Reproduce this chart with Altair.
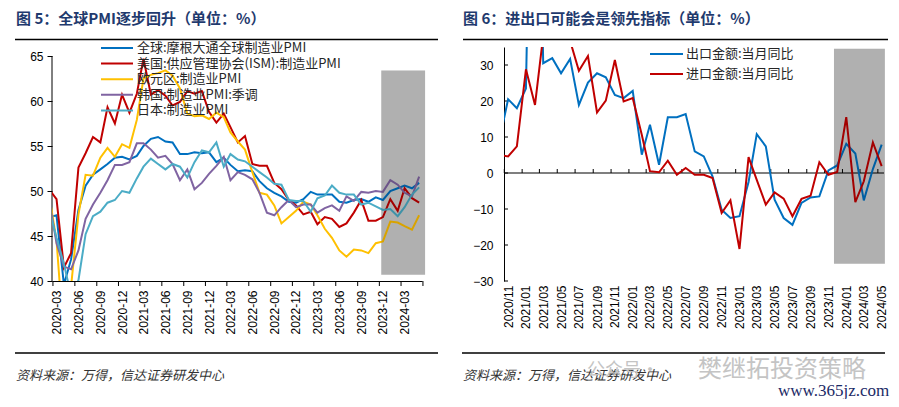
import altair as alt
import pandas as pd

CJK = "Noto Sans CJK SC"
LAT = "Liberation Sans"

# ---------------- 图5 : global manufacturing PMI ----------------
PMI_MONTHS = [f"{y}-{m:02d}-01" for y in range(2020, 2025) for m in range(1, 13)
              if "2020-02" <= f"{y}-{m:02d}" <= "2024-05"]
PMI_SERIES = ["全球:摩根大通全球制造业PMI", "美国:供应管理协会(ISM):制造业PMI",
              "欧元区:制造业PMI", "韩国:制造业PMI:季调", "日本:制造业PMI"]
PMI_COLORS = ["#0070C0", "#C00000", "#FFC000", "#8064A2", "#4BACC6"]
PMI_GLOBAL = [47.1, 47.3, 39.6, 42.4, 47.9, 50.6, 51.8, 52.4, 53.0, 53.7, 53.8,
              53.5, 53.9, 55.0, 55.8, 56.0, 55.5, 55.4, 54.1, 54.1, 54.3, 54.2, 54.3,
              53.2, 53.7, 52.9, 52.2, 52.3, 52.2, 51.1, 50.3, 49.8, 49.4, 48.8, 48.7,
              49.1, 49.9, 49.6, 49.6, 49.6, 48.8, 48.7, 49.0, 49.1, 48.8, 49.3, 49.0,
              50.0, 50.3, 50.6, 50.3, 50.9]
PMI_US = [50.1, 49.1, 41.5, 43.1, 52.6, 54.2, 56.0, 55.4, 59.3, 57.5, 60.7,
          58.7, 60.8, 64.7, 60.7, 61.2, 60.6, 59.5, 59.9, 61.1, 60.8, 61.1, 58.8,
          57.6, 58.6, 57.1, 55.4, 56.1, 53.0, 52.8, 52.8, 50.9, 50.2, 49.0, 48.4,
          47.4, 47.7, 46.3, 47.1, 46.9, 46.0, 46.4, 47.6, 49.0, 46.7, 46.7, 47.1,
          49.1, 47.8, 50.3, 49.2, 48.7]
PMI_EURO = [49.2, 44.5, 33.4, 39.4, 47.4, 51.8, 51.7, 53.7, 54.8, 53.8, 55.2,
            54.8, 57.9, 62.5, 62.9, 63.1, 63.4, 62.8, 61.4, 58.6, 58.3, 58.4, 58.0,
            58.7, 58.2, 56.5, 55.5, 54.6, 52.1, 49.8, 49.6, 48.4, 46.4, 47.1, 47.8,
            48.8, 48.5, 47.3, 45.8, 44.8, 43.4, 42.7, 43.5, 43.4, 43.1, 44.2, 44.4,
            46.6, 46.5, 46.1, 45.7, 47.3]
PMI_KOREA = [48.7, 44.2, 41.6, 41.3, 43.4, 46.9, 48.5, 49.8, 51.2, 52.9, 52.9,
             53.2, 55.3, 55.3, 54.6, 53.7, 53.9, 53.0, 51.2, 52.4, 50.2, 50.9, 51.9,
             52.8, 53.8, 51.2, 52.1, 51.8, 51.3, 49.8, 47.6, 47.3, 48.2, 49.0, 48.2,
             48.5, 48.5, 47.6, 48.1, 48.4, 47.8, 49.4, 48.9, 49.9, 49.8, 50.0, 49.9,
             51.2, 50.7, 49.8, 49.4, 51.6]
PMI_JAPAN = [47.8, 44.8, 41.9, 38.4, 40.1, 45.2, 47.2, 47.7, 48.7, 49.0, 50.0,
             49.8, 51.4, 52.7, 53.6, 53.0, 52.4, 53.0, 52.7, 51.5, 53.2, 54.5, 54.3,
             55.4, 52.7, 54.1, 53.5, 53.3, 52.7, 52.1, 51.5, 50.8, 50.7, 49.0, 48.9,
             48.9, 47.7, 49.2, 49.5, 50.6, 49.8, 49.6, 49.6, 48.5, 48.7, 48.3, 47.9,
             48.0, 47.2, 48.2, 49.6, 50.4]
PMI_TICK_LABELS = ["2020-03", "2020-06", "2020-09", "2020-12", "2021-03", "2021-06",
                   "2021-09", "2021-12", "2022-03", "2022-06", "2022-09", "2022-12",
                   "2023-03", "2023-06", "2023-09", "2023-12", "2024-03"]
PMI_TICK_MARKS = PMI_TICK_LABELS + ["2024-06"]
PMI_Y_TICKS = [40, 45, 50, 55, 60, 65]
PMI_X_DOMAIN = ["2020-02-11", "2024-05-13"]
PMI_Y_DOMAIN = [40, 66]
PMI_SHADE = {"start": "2023-11-24", "end": "2024-05-26", "lo": 40.7, "hi": 63.4}

# ---------------- 图6 : trade yoy ----------------
TRADE_MONTHS = [f"{y}-{m:02d}-01" for y in range(2020, 2025) for m in range(1, 13)
                if "2020-10" <= f"{y}-{m:02d}" <= "2024-05"]
TRADE_SERIES = ["出口金额:当月同比", "进口金额:当月同比"]
TRADE_COLORS = ["#0070C0", "#C00000"]
EXPORT_YOY = [8.5, 20.5, 18.0, 23.5, 154.9, 30.5, 31.9, 27.7, 31.7, 18.9, 25.1, 27.7,
              26.6, 21.7, 20.8, 22.8, 5.1, 13.4, 2.3, 15.5, 15.5, 16.4, 6.0, 4.6,
              -1.0, -10.2, -12.5, -12.0, -2.5, 10.8, 7.4, -7.4, -12.5, -14.4, -8.3, -6.8,
              -6.5, 0.7, 2.1, 8.1, 5.4, -7.6, 1.1, 7.9]
IMPORT_YOY = [5.0, 4.6, 7.4, 28.8, 18.9, 38.1, 43.1, 51.1, 36.7, 28.4, 32.5, 16.8,
              20.1, 31.4, 19.9, 20.8, 10.6, 0.5, 0.2, 3.4, -0.5, 1.4, -0.5, -0.5,
              -1.4, -11.1, -7.6, -21.1, 4.4, -1.9, -8.8, -5.4, -7.1, -12.0, -7.2, -6.3,
              3.0, -0.5, 0.3, 15.5, -8.1, -2.3, 8.5, 1.9]
TRADE_TICK_LABELS = ["2020-11"] + [f"{y}-{m:02d}" for y in range(2021, 2025) for m in range(1, 13, 2)
                                   if f"{y}-{m:02d}" <= "2024-05"]
TRADE_Y_TICKS = [-30, -20, -10, 0, 10, 20, 30]
TRADE_X_DOMAIN = ["2020-10-18", "2024-05-09"]
TRADE_Y_DOMAIN = [-30, 35]
TRADE_SHADE = {"start": "2023-11-20", "end": "2024-05-12", "lo": -25.2, "hi": 34.5}

TITLE5 = "图 5：全球PMI逐步回升（单位：%）"
TITLE6 = "图 6：进出口可能会是领先指标（单位：%）"
SOURCE = "资料来源：万得，信达证券研发中心"
TITLE_COLOR = "#1F3A6E"
SHADE_UNDER = "#CFCFCF"
SHADE_DARKEN = 0.15

W1, W2, H = 370, 380, 234


def dt(s):
    y, m, d = (int(v) for v in s.split("-"))
    return alt.DateTime(year=y, month=m, date=d)


def shift(label, days):
    return (pd.Timestamp(label + "-01") - pd.Timedelta(days=days)).strftime("%Y-%m-%d")


# ---------- encodings ----------
def x_left(field):
    return alt.X(field, type="temporal", title=None,
                 scale=alt.Scale(domain=[dt(d) for d in PMI_X_DOMAIN]),
                 axis=alt.Axis(values=[dt(s + "-01") for s in PMI_TICK_LABELS],
                               format="%Y-%m", formatType="time", labelAngle=270,
                               ticks=False, tickSize=0, labelPadding=9, domain=True,
                               domainColor="black", domainWidth=1, grid=False,
                               labelOverlap=False, title=None))


def y_left(field):
    return alt.Y(field, type="quantitative", title=None,
                 scale=alt.Scale(domain=PMI_Y_DOMAIN, nice=False, zero=False),
                 axis=alt.Axis(values=PMI_Y_TICKS, ticks=True, tickSize=5, labelPadding=4,
                               domain=False, grid=False, tickColor="black", title=None))


def x_right(field):
    return alt.X(field, type="temporal", title=None,
                 scale=alt.Scale(domain=[dt(d) for d in TRADE_X_DOMAIN]),
                 axis=alt.Axis(values=[dt(s + "-01") for s in TRADE_TICK_LABELS],
                               format="%Y/%m", formatType="time", labelAngle=270,
                               ticks=False, tickSize=0, labelPadding=4, domain=False,
                               grid=False, labelOverlap=False, title=None))


def y_right(field):
    return alt.Y(field, type="quantitative", title=None,
                 scale=alt.Scale(domain=TRADE_Y_DOMAIN, nice=False, zero=False),
                 axis=alt.Axis(values=TRADE_Y_TICKS, ticks=False, tickSize=0, labelPadding=11,
                               domain=True, domainColor="black", domainWidth=1, grid=False,
                               title=None))


one = pd.DataFrame({"t": [""]})


def text_layer(txt, x, y, **kw):
    return alt.Chart(pd.DataFrame({"t": [txt]})).mark_text(align="left", baseline="middle", **kw).encode(
        x=alt.value(x), y=alt.value(y), text="t:N")


def hrule(x1, x2, y, width=1.5):
    return alt.Chart(one).mark_rule(color="black", strokeWidth=width).encode(
        x=alt.value(x1), x2=alt.value(x2), y=alt.value(y))


# ---------- left panel ----------
pmi_df = pd.DataFrame({
    "date": PMI_MONTHS * 5,
    "series": sum([[s] * len(PMI_MONTHS) for s in PMI_SERIES], []),
    "value": PMI_GLOBAL + PMI_US + PMI_EURO + PMI_KOREA + PMI_JAPAN,
})
shade_l = pd.DataFrame({k: [v] for k, v in PMI_SHADE.items()})
ltick_df = pd.DataFrame({"tick": [shift(s, 15) for s in PMI_TICK_MARKS], "lo": PMI_Y_DOMAIN[0]})
laxis_df = pd.DataFrame({"lo": [PMI_Y_TICKS[0]], "hi": [PMI_Y_TICKS[-1]]})

left_shade = alt.Chart(shade_l).mark_rect(color=SHADE_UNDER).encode(
    x=x_left("start"), x2=alt.X2("end"), y=y_left("lo"), y2=alt.Y2("hi"))
left_shade_top = alt.Chart(shade_l).mark_rect(color="black", opacity=SHADE_DARKEN).encode(
    x=x_left("start"), x2=alt.X2("end"), y=y_left("lo"), y2=alt.Y2("hi"))
left_axisline = alt.Chart(laxis_df).mark_rule(color="black", strokeWidth=1).encode(
    x=alt.value(0), y=y_left("lo"), y2=alt.Y2("hi"))
left_ticks = alt.Chart(ltick_df).mark_rule(color="black", strokeWidth=1).encode(
    x=x_left("tick"), y=y_left("lo"), y2=alt.value(H + 5))
left_lines = alt.Chart(pmi_df).mark_line(strokeWidth=2, clip=True).encode(
    x=x_left("date"), y=y_left("value"),
    color=alt.Color("series:N", scale=alt.Scale(domain=PMI_SERIES, range=PMI_COLORS),
                    sort=PMI_SERIES,
                    legend=alt.Legend(title=None, orient="none", legendX=48, legendY=-6,
                                      direction="vertical", symbolType="stroke",
                                      symbolSize=1024, symbolStrokeWidth=2,
                                      labelFont=CJK, labelFontSize=13, labelColor="#262626",
                                      labelLimit=400, labelOffset=3, clipHeight=14,
                                      rowPadding=1.6, padding=0)))

left = alt.layer(
    left_shade, left_axisline, left_ticks, left_lines, left_shade_top,
    alt.Chart(one).mark_rule(opacity=0).encode(x=alt.value(-44), x2=alt.value(-40), y=alt.value(-39)),
    text_layer(TITLE5, -36, -28, font=CJK, fontSize=15, fontWeight="bold", color=TITLE_COLOR),
    hrule(-37, 386, -7.5), hrule(-37, 386, 306),
    text_layer(SOURCE, -36, 329, font=CJK, fontSize=13, fontStyle="italic", color="#333333"),
).properties(width=W1, height=H)

# ---------- right panel ----------
trade_df = pd.DataFrame({
    "date": TRADE_MONTHS * 2,
    "series2": sum([[s] * len(TRADE_MONTHS) for s in TRADE_SERIES], []),
    "value": EXPORT_YOY + IMPORT_YOY,
})
shade_r = pd.DataFrame({k: [v] for k, v in TRADE_SHADE.items()})
zero_df = pd.DataFrame({"zero": [0]})
rtick_df = pd.DataFrame({"tick": [shift(s, 13) for s in TRADE_TICK_LABELS], "zero": 0})
ytick_df = pd.DataFrame({"v": TRADE_Y_TICKS})

right_shade = alt.Chart(shade_r).mark_rect(color=SHADE_UNDER).encode(
    x=x_right("start"), x2=alt.X2("end"), y=y_right("lo"), y2=alt.Y2("hi"))
right_shade_top = alt.Chart(shade_r).mark_rect(color="black", opacity=SHADE_DARKEN).encode(
    x=x_right("start"), x2=alt.X2("end"), y=y_right("lo"), y2=alt.Y2("hi"))
right_zero = alt.Chart(zero_df).mark_rule(color="black", strokeWidth=1.2).encode(y=y_right("zero"))
right_xticks = alt.Chart(rtick_df).mark_rule(color="black", strokeWidth=1).encode(
    x=x_right("tick"), y=y_right("zero"), y2=alt.value(H * 35 / 65 - 4))
right_yticks = alt.Chart(ytick_df).mark_rule(color="black", strokeWidth=1).encode(
    x=alt.value(0), x2=alt.value(4), y=y_right("v"))
right_lines = alt.Chart(trade_df).mark_line(strokeWidth=2, clip=True).encode(
    x=x_right("date"), y=y_right("value"),
    color=alt.Color("series2:N", scale=alt.Scale(domain=TRADE_SERIES, range=TRADE_COLORS),
                    sort=TRADE_SERIES,
                    legend=alt.Legend(title=None, orient="none", legendX=145, legendY=-2,
                                      direction="vertical", symbolType="stroke",
                                      symbolSize=1089, symbolStrokeWidth=2,
                                      labelFont=CJK, labelFontSize=13, labelColor="#262626",
                                      labelLimit=400, labelOffset=2, clipHeight=18,
                                      rowPadding=2, padding=0)))

right = alt.layer(
    right_shade, right_zero, right_xticks, right_yticks, right_lines, right_shade_top,
    text_layer(TITLE6, -41, -28, font=CJK, fontSize=15, fontWeight="bold", color=TITLE_COLOR),
    hrule(-41, 384, -7.5), hrule(-42, 381, 306),
    text_layer(SOURCE, -41, 329, font=CJK, fontSize=13, fontStyle="italic", color="#333333"),
    text_layer("公众号·", 83, 324, font=CJK, fontSize=18, color="#C4C4C4"),
    text_layer("樊继拓投资策略", 194, 323, font=CJK, fontSize=24, color="#C4C4C4"),
    text_layer("www.365jz.com", 274, 344, font="Liberation Serif", fontSize=17, color="#1B2A66"),
).properties(width=W2, height=H)

chart = alt.hconcat(left, right, spacing=82, bounds="flush").resolve_scale(
    x="independent", y="independent", color="independent"
).resolve_legend(color="independent").properties(padding=0).configure_view(
    stroke=None
).configure_axis(
    labelFont=LAT, labelFontSize=12, labelColor="black", domainColor="black", tickColor="black"
)

chart.save("out.html", embed_options={"renderer": "svg", "actions": False})
